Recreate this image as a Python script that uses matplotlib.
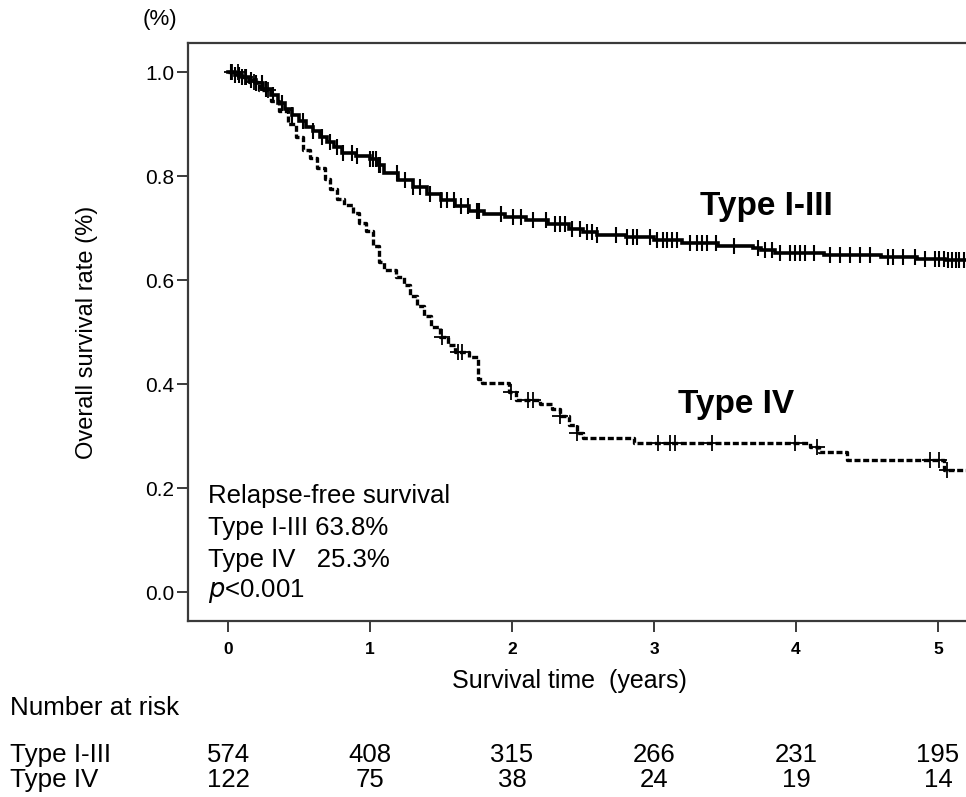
import numpy as np
import matplotlib
matplotlib.use('Agg')
import matplotlib.pyplot as plt

plt.rcParams['font.family'] = ['Liberation Sans', 'DejaVu Sans']

## Kaplan-Meier step data (years, survival)
t_13 = [0, 0.05, 0.1, 0.15, 0.2, 0.25, 0.3, 0.35, 0.4, 0.45, 0.5, 0.55, 0.6, 0.65,
        0.7, 0.75, 0.8, 0.9, 1.0, 1.05, 1.1, 1.2, 1.3, 1.4, 1.5, 1.6, 1.7, 1.8,
        1.95, 2.1, 2.25, 2.4, 2.5, 2.6, 2.8, 3.0, 3.2, 3.45, 3.7, 3.75, 3.85,
        4.2, 4.6, 4.85, 5.05]
s_13 = [1.0, 0.995, 0.99, 0.985, 0.978, 0.968, 0.955, 0.94, 0.928, 0.917, 0.905,
        0.895, 0.886, 0.876, 0.866, 0.856, 0.845, 0.838, 0.833, 0.822, 0.806,
        0.792, 0.778, 0.765, 0.753, 0.743, 0.733, 0.727, 0.722, 0.715, 0.708,
        0.698, 0.692, 0.687, 0.682, 0.677, 0.672, 0.665, 0.662, 0.658, 0.652,
        0.648, 0.645, 0.641, 0.638]
cens_13 = [0.02, 0.05, 0.08, 0.1, 0.13, 0.16, 0.2, 0.24, 0.27, 0.32, 0.38, 0.45,
           0.53, 0.6, 0.66, 0.72, 0.77, 0.81, 0.87, 0.91, 1.0, 1.02, 1.04, 1.06,
           1.07, 1.19, 1.25, 1.3, 1.35, 1.42, 1.5, 1.54, 1.59, 1.64, 1.69, 1.75,
           1.77, 1.92, 2.01, 2.06, 2.15, 2.24, 2.3, 2.34, 2.37, 2.42, 2.48, 2.53,
           2.56, 2.6, 2.73, 2.81, 2.85, 2.88, 2.97, 3.02, 3.06, 3.09, 3.13, 3.16,
           3.25, 3.3, 3.34, 3.37, 3.44, 3.56, 3.73, 3.78, 3.83, 3.89, 3.96, 3.99,
           4.03, 4.06, 4.13, 4.24, 4.31, 4.38, 4.45, 4.52, 4.65, 4.68, 4.75, 4.84,
           4.91, 4.98, 5.01, 5.04, 5.07, 5.1, 5.13, 5.15, 5.18]

t_4 = [0, 0.08, 0.15, 0.22, 0.3, 0.36, 0.42, 0.48, 0.53, 0.58, 0.63, 0.68, 0.72,
       0.77, 0.82, 0.88, 0.92, 0.97, 1.02, 1.06, 1.1, 1.18, 1.24, 1.28, 1.33,
       1.38, 1.43, 1.49, 1.55, 1.6, 1.7, 1.76, 1.79, 1.98, 2.03, 2.2, 2.28,
       2.34, 2.4, 2.46, 2.5, 2.86, 4.1, 4.16, 4.36, 5.04]
s_4 = [1.0, 0.99, 0.98, 0.965, 0.945, 0.925, 0.9, 0.875, 0.85, 0.835, 0.815,
       0.795, 0.775, 0.755, 0.745, 0.728, 0.71, 0.695, 0.665, 0.635, 0.62, 0.605,
       0.59, 0.57, 0.55, 0.53, 0.51, 0.49, 0.475, 0.462, 0.452, 0.41, 0.402,
       0.385, 0.37, 0.362, 0.352, 0.338, 0.322, 0.305, 0.296, 0.287, 0.279,
       0.27, 0.254, 0.235]
cens_4 = [0.03, 0.07, 0.12, 0.18, 0.28, 1.51, 1.62, 1.65, 1.99, 2.11, 2.15, 2.34,
          2.46, 3.03, 3.11, 3.15, 3.41, 3.99, 4.15, 4.94, 5.01, 5.06]

followup_end = 5.2

# Number at risk table
risk_times = [0, 1, 2, 3, 4, 5]
risk_13 = [574, 408, 315, 266, 231, 195]
risk_4 = [122, 75, 38, 24, 19, 14]


def at_time(t, s, c):
    # survival value of the step function at time c
    idx = np.searchsorted(t, c, side='right') - 1
    return np.asarray(s)[idx]


fig = plt.figure(figsize=(9.66, 7.97), dpi=100)
ax = fig.add_axes([0.1946, 0.2208, 0.8054, 0.7252])

# Type I-III: solid
ax.step(t_13 + [followup_end], s_13 + [s_13[-1]], where='post',
        color='black', linewidth=2.6, solid_joinstyle='miter')
ax.plot(cens_13, at_time(t_13, s_13, cens_13), linestyle='none', marker='|',
        markersize=12, markeredgewidth=1.5, color='black')

# Type IV: dotted
ax.step(t_4 + [followup_end], s_4 + [s_4[-1]], where='post',
        color='black', linewidth=2.4, dashes=(1.8, 0.8))
ax.plot(cens_4, at_time(t_4, s_4, cens_4), linestyle='none', marker='+',
        markersize=11, markeredgewidth=1.3, color='black')

ax.set_xlim(-0.2817, 5.197)
ax.set_ylim(-0.0558, 1.0558)

# Axes styling
for side in ['left', 'top', 'bottom']:
    ax.spines[side].set_color('#3a3a3a')
    ax.spines[side].set_linewidth(1.6)
ax.spines['right'].set_visible(False)

ax.set_yticks([0.0, 0.2, 0.4, 0.6, 0.8, 1.0])
ax.set_yticklabels(['0.0', '0.2', '0.4', '0.6', '0.8', '1.0'], fontsize=15)
ax.set_xticks(risk_times)
ax.set_xticklabels([str(x) for x in risk_times], fontsize=12.5, fontweight='bold')
ax.tick_params(axis='y', direction='out', length=8, width=1.4, color='#3a3a3a', pad=2)
ax.tick_params(axis='x', direction='out', length=8, width=1.4, color='#3a3a3a', pad=7)

ax.set_ylabel('Overall survival rate (%)', fontsize=17, labelpad=34)
fig.text(160 / 966, 1 - 20 / 797, '(%)', fontsize=16, va='center', ha='center')

fig.text(569 / 966, 1 - 681 / 797, 'Survival time  (years)', fontsize=18,
         ha='center', va='center')

# Curve labels
ax.text(3.324, 0.725, 'Type I-III', fontsize=24, fontweight='bold', va='baseline')
ax.text(3.17, 0.344, 'Type IV', fontsize=24, fontweight='bold', va='baseline')

# Summary box
ax.text(-0.141, 0.171, 'Relapse-free survival', fontsize=18.5, va='baseline')
ax.text(-0.141, 0.110, 'Type I-III 63.8%', fontsize=18.5, va='baseline')
ax.text(-0.141, 0.048, 'Type IV   25.3%', fontsize=18.5, va='baseline')
ax.text(-0.141, -0.0096, '$\\mathit{p}$<0.001', fontsize=18.5, va='baseline')

# Number at risk table
fig.text(10 / 966, 1 - 715 / 797, 'Number at risk', fontsize=18.7, va='baseline')
fig.text(10 / 966, 1 - 762 / 797, 'Type I-III', fontsize=18.7, va='baseline')
fig.text(10 / 966, 1 - 787 / 797, 'Type IV', fontsize=18.7, va='baseline')
for x, n13, n4 in zip(risk_times, risk_13, risk_4):
    xf = (228 + 142 * x) / 966
    fig.text(xf, 1 - 762 / 797, str(n13), fontsize=18.5, ha='center', va='baseline')
    fig.text(xf, 1 - 787 / 797, str(n4), fontsize=18.5, ha='center', va='baseline')

fig.savefig('out.png', dpi=100)
